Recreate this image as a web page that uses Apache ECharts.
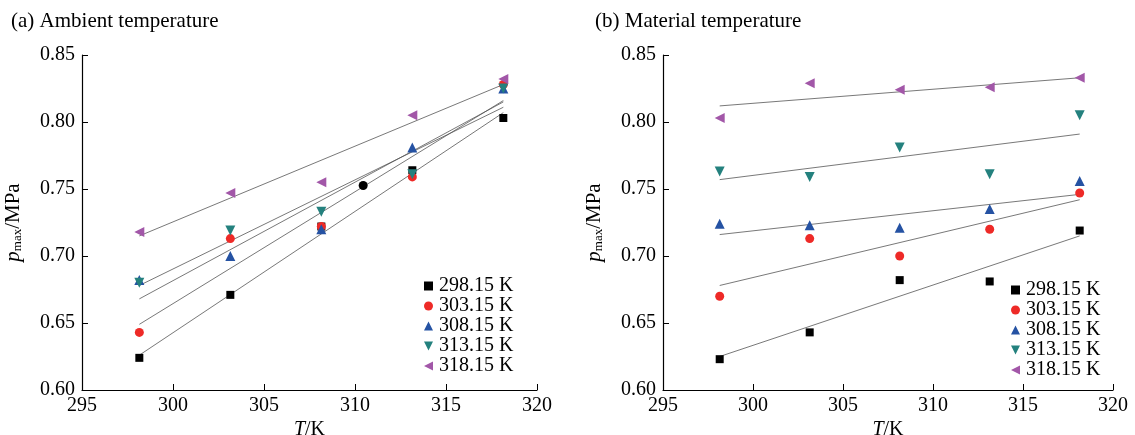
<!DOCTYPE html>
<html>
<head>
<meta charset="utf-8">
<script src="https://cdn.jsdelivr.net/npm/echarts@6/dist/echarts.min.js"></script>
<style>
  html, body { margin: 0; padding: 0; background: #fff; }
  #chart { width: 1135px; height: 435px; }
</style>
</head>
<body>
<div id="chart"></div>
<script>
// 温度 (K)
var temps = [298.15, 303.15, 308.15, 313.15, 318.15];
var seriesNames = ['298.15 K', '303.15 K', '308.15 K', '313.15 K', '318.15 K'];

// (a) 环境温度下的 p_max
var ambBlack  = [0.624, 0.671, 0.722, 0.764, 0.803];
var ambRed    = [0.643, 0.713, 0.722, 0.759, 0.828];
var ambBlue   = [0.682, 0.700, 0.720, 0.781, 0.825];
var ambTeal   = [0.680, 0.719, 0.733, 0.761, 0.825];
var ambPurple = [0.718, 0.747, 0.755, 0.805, 0.832];
var ambExtra  = [[310.45, 0.7526]];
// 拟合线端点 (298.15 K, 318.15 K)
var ambFit = [[0.626, 0.807], [0.649, 0.816], [0.668, 0.815], [0.678, 0.811], [0.715, 0.828]];

// (b) 材料温度下的 p_max
var matBlack  = [0.623, 0.643, 0.682, 0.681, 0.719];
var matRed    = [0.670, 0.713, 0.700, 0.720, 0.747];
var matBlue   = [0.724, 0.723, 0.721, 0.735, 0.756];
var matTeal   = [0.763, 0.759, 0.781, 0.761, 0.805];
var matPurple = [0.803, 0.829, 0.824, 0.826, 0.833];
var matFit = [[0.625, 0.715], [0.678, 0.742], [0.716, 0.746], [0.757, 0.791], [0.812, 0.833]];

var xTicks = [295, 300, 305, 310, 315, 320];
var yTicks = [0.60, 0.65, 0.70, 0.75, 0.80, 0.85];

var colors = ['#000000', '#ee2a27', '#2552a3', '#24817e', '#a257a8'];
var symbols = ['rect', 'circle', 'triangle', 'path://M0,0L10,0L5,10Z', 'path://M0,5L10,0L10,10Z'];
var sizes = [8, 9, 10, 10, 10];
var serif = '"Liberation Serif", "Times New Roman", serif';

function pairs (vals) {
    return vals.map(function (v, i) { return [temps[i], v]; });
}

function buildSeries (idx, sets, fits) {
    var out = [];
    sets.forEach(function (vals, k) {
        out.push({
            name: seriesNames[k], type: 'scatter', xAxisIndex: idx, yAxisIndex: idx,
            symbol: symbols[k], symbolSize: sizes[k],
            itemStyle: { color: colors[k], opacity: 1 },
            data: pairs(vals), z: 3
        });
        out.push({
            name: 'fit' + idx + k, type: 'line', xAxisIndex: idx, yAxisIndex: idx,
            symbol: 'none', silent: true,
            lineStyle: { color: '#555', width: 0.8 },
            data: [[temps[0], fits[k][0]], [temps[4], fits[k][1]]], z: 2
        });
    });
    return out;
}

function xAxis (idx) {
    return {
        gridIndex: idx, type: 'value', min: xTicks[0], max: xTicks[xTicks.length - 1], interval: 5,
        name: '{i|T}{n|/K}', nameLocation: 'middle', nameGap: 30, nameMoveOverlap: false,
        nameTextStyle: { rich: {
            i: { fontFamily: serif, fontSize: 20, fontStyle: 'italic', color: '#000' },
            n: { fontFamily: serif, fontSize: 20, color: '#000' }
        } },
        axisLine: { lineStyle: { color: '#000', width: 1.2 } },
        axisTick: { inside: true, length: 6, lineStyle: { color: '#000' } },
        axisLabel: { fontFamily: serif, fontSize: 20, color: '#000', margin: 6 },
        splitLine: { show: false }
    };
}

function yAxis (idx) {
    return {
        gridIndex: idx, type: 'value', min: yTicks[0], max: yTicks[yTicks.length - 1], interval: 0.05,
        name: '{i|p}{s|max}{n|/MPa}', nameLocation: 'middle', nameGap: 58, nameMoveOverlap: false,
        nameTextStyle: { rich: {
            i: { fontFamily: serif, fontSize: 21, fontStyle: 'italic', color: '#000' },
            s: { fontFamily: serif, fontSize: 13, color: '#000', verticalAlign: 'bottom', padding: [8, 0, 0, 0] },
            n: { fontFamily: serif, fontSize: 21, color: '#000' }
        } },
        axisLine: { show: true, lineStyle: { color: '#000', width: 1.2 } },
        axisTick: { show: true, inside: true, length: 6, lineStyle: { color: '#000' } },
        axisLabel: { fontFamily: serif, fontSize: 20, color: '#000', margin: 7,
            formatter: function (v) { return v.toFixed(2); } },
        splitLine: { show: false }
    };
}

function legend (left, top) {
    return {
        left: left, top: top, orient: 'vertical',
        itemWidth: 9, itemHeight: 9, itemGap: 0,
        itemStyle: { opacity: 1 },
        textStyle: { fontFamily: serif, fontSize: 20, color: '#000', lineHeight: 19.3, padding: [0, 0, 0, 1] },
        data: seriesNames.map(function (n, k) { return { name: n, icon: symbols[k] }; }),
        selectedMode: false
    };
}

var chart = echarts.init(document.getElementById('chart'));
var option = {
    animation: false,
    backgroundColor: '#fff',
    title: [
        { text: '(a) Ambient temperature', left: 6, top: 6,
          textStyle: { fontFamily: serif, fontSize: 21, fontWeight: 'normal', color: '#000' } },
        { text: '(b) Material temperature', left: 590, top: 6,
          textStyle: { fontFamily: serif, fontSize: 21, fontWeight: 'normal', color: '#000' } }
    ],
    legend: [legend(419, 271), legend(1006, 275)],
    grid: [
        { left: 82, top: 55, width: 455, height: 335, outerBoundsMode: 'none' },
        { left: 663, top: 55, width: 450, height: 335, outerBoundsMode: 'none' }
    ],
    xAxis: [xAxis(0), xAxis(1)],
    yAxis: [yAxis(0), yAxis(1)],
    series: buildSeries(0, [ambBlack, ambRed, ambBlue, ambTeal, ambPurple], ambFit)
        .concat(buildSeries(1, [matBlack, matRed, matBlue, matTeal, matPurple], matFit))
        .concat([{
            name: 'extra', type: 'scatter', xAxisIndex: 0, yAxisIndex: 0,
            symbol: 'circle', symbolSize: 9, itemStyle: { color: '#000', opacity: 1 }, data: ambExtra, z: 3
        }])
};
chart.setOption(option);
</script>
</body>
</html>
